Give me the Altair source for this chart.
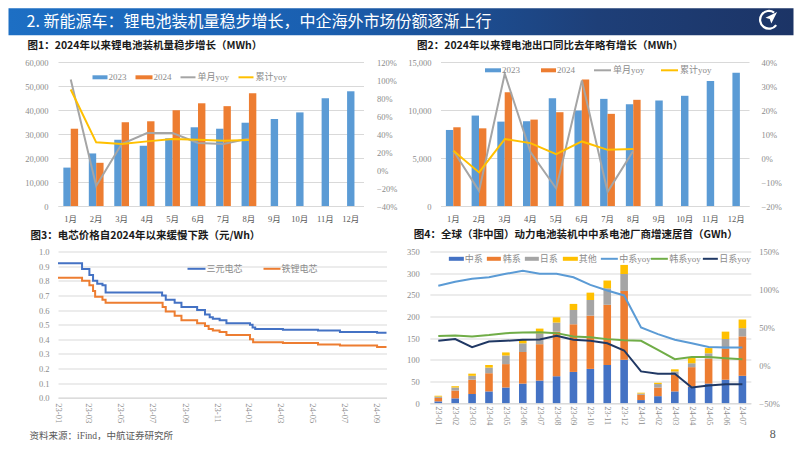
import altair as alt
import pandas as pd

# ---------------- data ----------------
months = ["1月", "2月", "3月", "4月", "5月", "6月", "7月", "8月", "9月", "10月", "11月", "12月"]

# Fig1: battery installations (MWh)
f1_2023 = [16000, 21900, 27600, 25100, 28200, 32800, 32200, 34700, 36300, 39000, 44900, 47800]
f1_2024 = [32200, 18000, 34900, 35300, 39900, 42800, 41600, 47000]
f1_single_yoy = [1.006, -0.177, 0.288, 0.41, 0.41, 0.30, 0.288, 0.35]
f1_cum_yoy = [0.895, 0.307, 0.288, 0.318, 0.344, 0.337, 0.326, 0.333]

# Fig2: battery exports (MWh)
f2_2023 = [7920, 9420, 8790, 8830, 11230, 9940, 11160, 10600, 10990, 11480, 13010, 13890]
f2_2024 = [8200, 8090, 11860, 9000, 9770, 13190, 9600, 11060]
f2_single_yoy = [0.03, -0.137, 0.351, 0.025, -0.127, 0.323, -0.141, 0.03]
f2_cum_yoy = [0.03, -0.06, 0.079, 0.062, 0.016, 0.069, 0.034, 0.037]

# Fig3: cell prices (yuan/Wh), step series
ncm_dates = ["2023-01-01", "2023-02-16", "2023-03-02", "2023-03-09", "2023-03-17", "2023-03-27",
             "2023-04-02", "2023-07-19", "2023-07-26", "2023-08-12", "2023-08-25", "2023-09-24",
             "2023-10-09", "2023-10-18", "2023-10-24", "2023-11-06", "2023-11-19", "2024-01-03",
             "2024-01-08", "2024-01-13", "2024-03-06", "2024-05-12", "2024-06-23", "2024-09-02",
             "2024-09-20"]
ncm_price = [0.92, 0.88, 0.84, 0.80, 0.78, 0.77, 0.72, 0.70, 0.67, 0.65, 0.62, 0.60, 0.57, 0.55,
             0.54, 0.53, 0.51, 0.50, 0.48, 0.47, 0.465, 0.46, 0.45, 0.445, 0.445]
lfp_dates = ["2023-01-01", "2023-02-16", "2023-03-02", "2023-03-09", "2023-03-13", "2023-03-27",
             "2023-04-02", "2023-07-20", "2023-07-26", "2023-08-12", "2023-08-25", "2023-09-24",
             "2023-10-09", "2023-10-16", "2023-10-24", "2023-11-06", "2023-11-19", "2024-01-03",
             "2024-01-09", "2024-03-06", "2024-05-12", "2024-06-23", "2024-09-02", "2024-09-20"]
lfp_price = [0.82, 0.80, 0.77, 0.73, 0.69, 0.67, 0.65, 0.62, 0.59, 0.56, 0.53, 0.51, 0.49, 0.47,
             0.46, 0.45, 0.43, 0.40, 0.38, 0.375, 0.365, 0.357, 0.348, 0.348]

# Fig4: overseas (non-China) EV battery installations (GWh)
f4_months = ["23-01", "23-02", "23-03", "23-04", "23-05", "23-06", "23-07", "23-08", "23-09",
             "23-10", "23-11", "23-12", "24-01", "24-02", "24-03", "24-04", "24-05", "24-06", "24-07"]
f4_cn = [4, 11, 21, 27, 36, 45, 52, 62, 72, 79, 88, 100, 7, 16, 27, 38, 45, 54, 63]
f4_kr = [8, 18, 33, 42, 54, 73, 84, 103, 110, 123, 139, 159, 12, 20, 38, 45, 58, 71, 91]
f4_jp = [3, 7, 9, 13, 20, 20, 25, 21, 33, 36, 38, 39, 3, 8, 8, 9, 12, 23, 19]
f4_other = [2, 3, 5, 6, 7, 8, 11, 12, 14, 17, 18, 21, 2, 3, 5, 12, 12, 17, 20]
f4_cn_yoy = [1.047, 1.10, 1.14, 1.16, 1.206, 1.245, 1.206, 1.206, 1.16, 1.06, 0.986, 0.92,
             0.498, 0.41, 0.335, 0.29, 0.24, 0.234, 0.234]
f4_kr_yoy = [0.384, 0.392, 0.379, 0.397, 0.423, 0.432, 0.436, 0.423, 0.379, 0.37, 0.344, 0.33,
             0.322, 0.203, 0.08, 0.107, 0.107, 0.093, 0.08]
f4_jp_yoy = [0.322, 0.344, 0.238, 0.313, 0.322, 0.335, 0.34, 0.388, 0.335, 0.322, 0.29, 0.194,
             -0.082, -0.113, -0.113, -0.293, -0.267, -0.25, -0.25]

# ---------------- style ----------------
BLUE, ORANGE, GRAYL, YELLOW = "#5B9BD5", "#ED7D31", "#A5A5A5", "#FFC000"
DBLUE, GREEN, NAVY = "#4472C4", "#70AD47", "#203864"
GRID, LABEL, TEXT = "#D9D9D9", "#8C8C8C", "#595959"
SERIF = "Liberation Serif, Noto Sans CJK SC"
SANS = "Noto Sans CJK SC"
ONE = pd.DataFrame({"k": [0]})


def txt(s, x, y, size=9.0, color=TEXT, font=SERIF, weight="normal", align="left"):
    return alt.Chart(ONE).mark_text(text=s, align=align, baseline="middle", fontSize=size,
                                    color=color, font=font, fontWeight=weight).encode(
        x=alt.value(x), y=alt.value(y))


def box(x1, x2, y1, y2, color):
    return alt.Chart(ONE).mark_rect(color=color).encode(
        x=alt.value(x1), x2=alt.value(x2), y=alt.value(y1), y2=alt.value(y2))


def seg(x1, x2, y, color, w=2.0):
    return alt.Chart(ONE).mark_rule(color=color, strokeWidth=w).encode(
        x=alt.value(x1), x2=alt.value(x2), y=alt.value(y))


def left_axis(values, fmt, pad):
    return alt.Axis(title=None, values=values, format=fmt, grid=True, gridColor=GRID,
                    domain=False, ticks=False, labelPadding=pad, labelColor=LABEL,
                    labelFont=SERIF, labelFontSize=8.5, labelOverlap=False, labelBound=False)


def right_axis(values, fmt, pad):
    return alt.Axis(title=None, orient="right", values=values, format=fmt, grid=False,
                    domain=False, ticks=False, labelPadding=pad, labelColor=LABEL,
                    labelFont=SERIF, labelFontSize=8.5, labelOverlap=False)


def month_axis():
    return alt.Axis(title=None, labelAngle=0, ticks=False, labelPadding=8, domainColor=GRID,
                    labelColor=TEXT, labelFont=SERIF, labelFontSize=8.5)


# ---------------- figure 1 & 2 builder ----------------
def bar_line_panel(v2023, v2024, single, cum, ymax, ystep, ymin_r, ymax_r, rstep,
                   lpad, rpad, legend_pos, title, title_pos):
    xs = alt.Scale(domain=months, paddingInner=0.42, paddingOuter=0.21)
    yax = left_axis(list(range(0, ymax + 1, ystep)), ",d", lpad)
    ys = alt.Scale(domain=[0, ymax])
    n = len(v2024)
    dfa = pd.DataFrame({"m": months[:n] * 2, "year": ["2023"] * n + ["2024"] * n,
                        "v": v2023[:n] + v2024})
    dfb = pd.DataFrame({"m": months[n:], "v": v2023[n:]})
    ba = alt.Chart(dfa).mark_bar().encode(
        x=alt.X("m:N", scale=xs, axis=month_axis()),
        xOffset=alt.XOffset("year:N", scale=alt.Scale(domain=["2023", "2024"])),
        y=alt.Y("v:Q", scale=ys, axis=yax),
        color=alt.Color("year:N", scale=alt.Scale(domain=["2023", "2024"], range=[BLUE, ORANGE]),
                        legend=None))
    bb = alt.Chart(dfb).mark_bar(width=alt.RelativeBandSize(0.5), color=BLUE).encode(
        x=alt.X("m:N", scale=xs, axis=month_axis()),
        y=alt.Y("v:Q", scale=ys, axis=yax))
    bars = alt.layer(ba, bb)
    dfl = pd.DataFrame({"m": months[:n] * 2, "s": ["单月yoy"] * n + ["累计yoy"] * n,
                        "v": single + cum})
    rvals = [round(ymin_r + i * rstep, 2) for i in range(int(round((ymax_r - ymin_r) / rstep)) + 1)]
    lines = alt.Chart(dfl).mark_line(strokeWidth=2).encode(
        x=alt.X("m:N", scale=xs, axis=month_axis()),
        y=alt.Y("v:Q", scale=alt.Scale(domain=[ymin_r, ymax_r]), axis=right_axis(rvals, ".0%", rpad)),
        color=alt.Color("s:N", scale=alt.Scale(domain=["单月yoy", "累计yoy"], range=[GRAYL, YELLOW]),
                        legend=None))
    ly = legend_pos["y"]
    deco = [
        box(legend_pos["s1"][0], legend_pos["s1"][1], ly - 2, ly + 2, BLUE),
        txt("2023", legend_pos["s1"][1] + 1, ly, color=LABEL),
        box(legend_pos["s2"][0], legend_pos["s2"][1], ly - 2, ly + 2, ORANGE),
        txt("2024", legend_pos["s2"][1] + 1, ly, color=LABEL),
        seg(legend_pos["s3"][0], legend_pos["s3"][1], ly, GRAYL),
        txt("单月yoy", legend_pos["s3"][1] + 2, ly, color=LABEL),
        seg(legend_pos["s4"][0], legend_pos["s4"][1], ly, YELLOW),
        txt("累计yoy", legend_pos["s4"][1] + 2, ly, color=LABEL),
        txt(title, title_pos[0], title_pos[1], size=10.5, color="#1a1a1a", font=SANS, weight="bold"),
    ]
    return [bars, lines] + deco


# Figure 1 (plot origin at page-ref (57.5, 61.7))
W1, H1 = 305.5, 144
f1_layers = bar_line_panel(
    f1_2023, f1_2024, f1_single_yoy, f1_cum_yoy, 60000, 10000, -0.4, 1.2, 0.2, 10, 13,
    {"y": 15.3, "s1": (34.5, 49.5), "s2": (77.5, 94.5), "s3": (122.5, 137.5), "s4": (180.5, 195.5)},
    "图1：2024年以来锂电池装机量稳步增长（MWh）", (-30.5, -16))
# header (drawn inside fig1 coordinates)
header_grad = alt.Gradient(gradient="linear", x1=0, x2=1, y1=0, y2=0, stops=[
    alt.GradientStop(color="#1d6fc4", offset=0),
    alt.GradientStop(color="#1a5fb0", offset=0.4),
    alt.GradientStop(color="#1e3f78", offset=0.75),
    alt.GradientStop(color="#1c3466", offset=1)])
header = alt.Chart(ONE).mark_rect(fill=header_grad).encode(
    x=alt.value(-49.5), x2=alt.value(735.5), y=alt.value(-53.7), y2=alt.value(-26.7))
header_title = txt("2. 新能源车：锂电池装机量稳步增长，中企海外市场份额逐渐上行", -31.5, -40.5,
                   size=16, color="white", font=SANS)
fig1 = alt.layer(*(f1_layers + [header, header_title])).resolve_scale(
    y="independent", color="independent").properties(width=W1, height=H1)

# Figure 2 (plot origin at page-ref (439.5, 61.7))
W2, H2 = 308.5, 144
f2_layers = bar_line_panel(
    f2_2023, f2_2024, f2_single_yoy, f2_cum_yoy, 15000, 5000, -0.2, 0.4, 0.1, 9.5, 12,
    {"y": 8.3, "s1": (44.5, 60.5), "s2": (100.5, 115.5), "s3": (153.5, 170.5), "s4": (220.5, 237.5)},
    "图2：2024年以来锂电池出口同比去年略有增长（MWh）", (-23.5, -16))
logo_ring = alt.Chart(ONE).mark_arc(radius=10, radius2=7.8, theta=2.2, theta2=6.9,
                                    color="white").encode(
    x=alt.value(328.5), y=alt.value(-42.2))
logo_plane = alt.Chart(ONE).mark_point(
    shape="M1,-1 L-0.9,-0.05 L-0.2,0.15 L0.05,0.9 Z", filled=True, color="white",
    size=150, opacity=1, strokeWidth=0).encode(
    x=alt.value(330.5), y=alt.value(-44))
fig2 = alt.layer(*(f2_layers + [logo_ring, logo_plane])).resolve_scale(
    y="independent", color="independent").properties(width=W2, height=H2)

# Figure 3 (plot origin at page-ref (57.5, 251))
W3, H3 = 328.5, 146.3
df3 = pd.DataFrame({
    "d": ncm_dates + lfp_dates,
    "p": ncm_price + lfp_price,
    "s": ["三元电芯"] * len(ncm_dates) + ["铁锂电芯"] * len(lfp_dates)})
tick_dates = [alt.DateTime(year=2023 + (m - 1) // 12, month=(m - 1) % 12 + 1, date=1, utc=True)
              for m in range(1, 22, 2)]
fig3_line = alt.Chart(df3).mark_line(interpolate="step-after", strokeWidth=2).encode(
    x=alt.X("d:T", scale=alt.Scale(type="utc", domain=[
        alt.DateTime(year=2023, month=1, date=1, utc=True),
        alt.DateTime(year=2024, month=9, date=20, utc=True)]),
        axis=alt.Axis(title=None, values=tick_dates, format="%y-%m",
                      labelAngle=90, ticks=False, labelPadding=5, domainColor=GRID, grid=False,
                      labelColor=LABEL, labelFont=SERIF, labelFontSize=8.5)),
    y=alt.Y("p:Q", scale=alt.Scale(domain=[0, 1.0]),
            axis=left_axis([round(i * 0.1, 1) for i in range(11)], ".1f", 9)),
    color=alt.Color("s:N", scale=alt.Scale(domain=["三元电芯", "铁锂电芯"], range=[DBLUE, ORANGE]),
                    legend=None))
fig3 = alt.layer(
    fig3_line,
    seg(129.5, 147.5, 17.3, DBLUE), txt("三元电芯", 148.5, 17.3, color=LABEL),
    seg(205.5, 222.5, 17.3, ORANGE), txt("铁锂电芯", 223.5, 17.3, color=LABEL),
    txt("图3：电芯价格自2024年以来缓慢下跌（元/Wh）", -27.5, -16, size=10.5, color="#1a1a1a",
        font=SANS, weight="bold"),
    txt("资料来源：iFind，中航证券研究所", -28.5, 184, size=9.5, color=TEXT),
).properties(width=W3, height=H3)

# Figure 4 (plot origin at page-ref (428.85, 251.7))
W4, H4 = 321, 151.6
groups = ["中系", "韩系", "日系", "其他"]
df4b = pd.DataFrame({
    "m": f4_months * 4,
    "g": sum([[g] * len(f4_months) for g in groups], []),
    "o": sum([[i] * len(f4_months) for i in range(4)], []),
    "v": f4_cn + f4_kr + f4_jp + f4_other})
xs4 = alt.Scale(domain=f4_months, paddingInner=0.55, paddingOuter=0.275)
xax4 = alt.Axis(title=None, labelAngle=90, ticks=False, labelPadding=3, domainColor=GRID,
                labelColor=LABEL, labelFont=SERIF, labelFontSize=8)
bars4 = alt.Chart(df4b).mark_bar().encode(
    x=alt.X("m:N", scale=xs4, axis=xax4),
    y=alt.Y("v:Q", stack="zero", scale=alt.Scale(domain=[0, 350]),
            axis=left_axis(list(range(0, 351, 50)), "d", 10.5)),
    color=alt.Color("g:N", scale=alt.Scale(domain=groups, range=[DBLUE, ORANGE, GRAYL, YELLOW]),
                    legend=None),
    order=alt.Order("o:Q", sort="ascending"))
yoys = ["中系yoy", "韩系yoy", "日系yoy"]
df4l = pd.DataFrame({
    "m": f4_months * 3,
    "s": sum([[s] * len(f4_months) for s in yoys], []),
    "v": f4_cn_yoy + f4_kr_yoy + f4_jp_yoy})
lines4 = alt.Chart(df4l).mark_line(strokeWidth=2).encode(
    x=alt.X("m:N", scale=xs4, axis=xax4),
    y=alt.Y("v:Q", scale=alt.Scale(domain=[-0.5, 1.5]),
            axis=right_axis([-0.5, 0, 0.5, 1.0, 1.5], ".0%", 8)),
    color=alt.Color("s:N", scale=alt.Scale(domain=yoys, range=[BLUE, GREEN, NAVY]), legend=None))
ly4 = 7.3
leg4 = [
    box(19, 34, ly4 - 2, ly4 + 2, DBLUE), txt("中系", 35, ly4, color=LABEL),
    box(57, 71, ly4 - 2, ly4 + 2, ORANGE), txt("韩系", 73, ly4, color=LABEL),
    box(95, 109, ly4 - 2, ly4 + 2, GRAYL), txt("日系", 110, ly4, color=LABEL),
    box(133, 148, ly4 - 2, ly4 + 2, YELLOW), txt("其他", 149, ly4, color=LABEL),
    seg(171, 188, ly4, BLUE), txt("中系yoy", 189.5, ly4, color=LABEL),
    seg(221, 238, ly4, GREEN), txt("韩系yoy", 239.5, ly4, color=LABEL),
    seg(273, 288, ly4, NAVY), txt("日系yoy", 289.5, ly4, color=LABEL),
    txt("图4：全球（非中国）动力电池装机中中系电池厂商增速居首（GWh）", -16, -16.7, size=10.5,
        color="#1a1a1a", font=SANS, weight="bold"),
    txt("8", 340, 182, size=12, color=TEXT),
]
fig4 = alt.layer(bars4, lines4, *leg4).resolve_scale(
    y="independent", color="independent").properties(width=W4, height=H4)

row1 = alt.hconcat(fig1, fig2, spacing=76.5, bounds="flush")
row2 = alt.hconcat(fig3, fig4, spacing=42.85, bounds="flush")
chart = alt.vconcat(row1, row2, spacing=189.5, bounds="flush").properties(
    padding=0, background="white"
).configure_view(stroke=None)

chart.save("out.html", embed_options={"renderer": "svg", "actions": False})
